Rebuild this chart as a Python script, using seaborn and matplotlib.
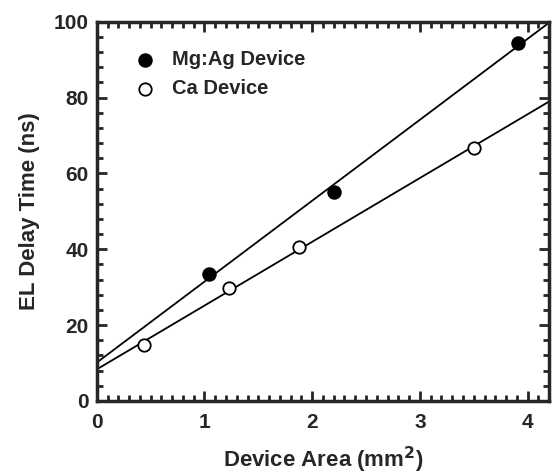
import numpy as np
import pandas as pd
import matplotlib
matplotlib.use("Agg")
import matplotlib.pyplot as plt
from matplotlib.ticker import MultipleLocator
import seaborn as sns

# values
mgag_area = [1.04, 2.20, 3.91]
mgag_delay = [33.5, 55.1, 94.4]
ca_area = [0.44, 1.23, 1.88, 3.50]
ca_delay = [14.8, 29.8, 40.6, 66.7]

df_mg = pd.DataFrame({'area': mgag_area, 'delay': mgag_delay})
df_ca = pd.DataFrame({'area': ca_area, 'delay': ca_delay})

sns.set_style('ticks')
plt.rcParams['font.family'] = ['Liberation Sans', 'DejaVu Sans']
plt.rcParams['font.weight'] = 'bold'

fig = plt.figure(figsize=(5.53, 4.75), dpi=100)
ax = fig.add_axes([0.175, 0.156, 0.818, 0.798])
ax.set_xlim(0, 4.2)
ax.set_ylim(0, 100)

# fitted lines across the whole axis
sns.regplot(data=df_mg, x='area', y='delay', ax=ax, ci=None, truncate=False,
            scatter=False, line_kws={'color': 'black', 'lw': 1.3})
sns.regplot(data=df_ca, x='area', y='delay', ax=ax, ci=None, truncate=False,
            scatter=False, line_kws={'color': 'black', 'lw': 1.3})

sns.scatterplot(data=df_mg, x='area', y='delay', ax=ax, color='black',
                edgecolor='black', s=85, linewidth=1.2, label='Mg:Ag Device', zorder=3)
sns.scatterplot(data=df_ca, x='area', y='delay', ax=ax, color='white',
                edgecolor='black', s=80, linewidth=1.3, label='Ca Device', zorder=3)

ax.set_xlim(0, 4.2)
ax.set_ylim(0, 100)
ax.xaxis.set_major_locator(MultipleLocator(1))
ax.xaxis.set_minor_locator(MultipleLocator(0.1))
ax.yaxis.set_major_locator(MultipleLocator(20))
ax.yaxis.set_minor_locator(MultipleLocator(4))
ax.tick_params(which='both', direction='in', top=True, right=True, width=2, labelsize=15)
ax.tick_params(which='major', length=7)
ax.tick_params(which='minor', length=4)
ax.tick_params(axis='x', pad=9)
ax.tick_params(axis='y', pad=6)
for sp in ax.spines.values():
    sp.set_linewidth(2.5)
for t in ax.get_xticklabels() + ax.get_yticklabels():
    t.set_fontweight('bold')

ax.set_xlabel('Device Area (mm$^\\mathbf{2}$)', fontsize=16, fontweight='bold', labelpad=9)
ax.set_ylabel('EL Delay Time (ns)', fontsize=16, fontweight='bold', labelpad=10)

leg = ax.legend(loc='upper left', bbox_to_anchor=(0.062, 0.947), frameon=False,
                fontsize=14.5, handletextpad=0.75, borderaxespad=0, borderpad=0.4,
                labelspacing=0.5, handlelength=1.2)

plt.savefig('out.png', dpi=100)
